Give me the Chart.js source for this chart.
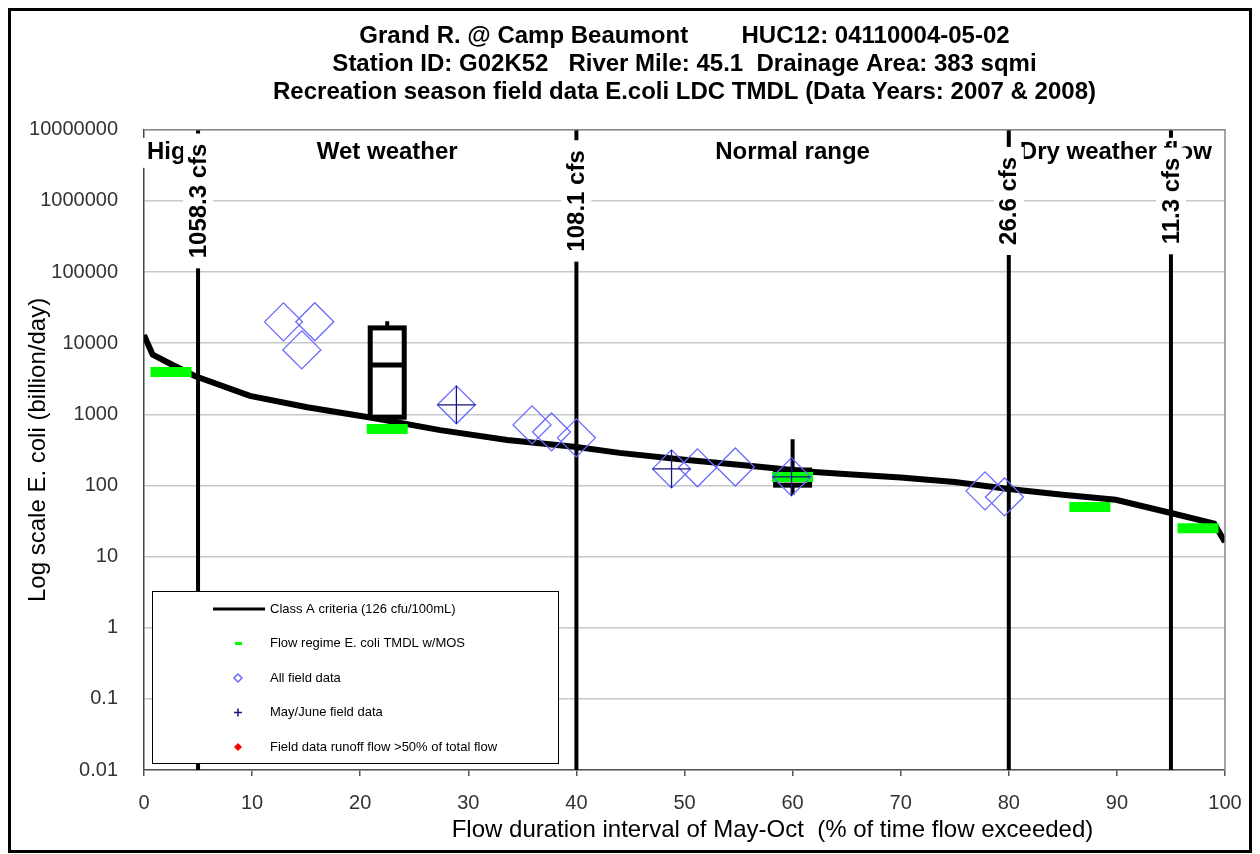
<!DOCTYPE html>
<html lang="en">
  <head>
    <meta charset="UTF-8" />
    <title>Grand R. @ Camp Beaumont - E.coli LDC TMDL</title>
    <script src="https://cdn.jsdelivr.net/npm/chart.js"></script>
    <style>
      body { margin: 0; background: #fff; }
    </style>
  </head>
  <body>
    <canvas id="ldc" width="1260" height="854"></canvas>

    <script>
      // Class A criteria load duration curve (billion/day)
      const criteriaX = [0, 0.8, 2.7, 4.7, 9.8, 15.1, 21.2, 27.4, 33.6, 40, 44, 50, 55, 60, 62, 64.8, 70, 75, 80, 85, 89.9, 95, 99, 100];
      const criteriaY = [13000, 6900, 4900, 3460, 1820, 1260, 890, 600, 436, 347, 287, 230, 195, 165, 155, 145, 129, 112, 89, 74, 63, 41, 29, 16];

      // flow regime TMDL w/MOS (one per regime)
      const tmdlX = [2.5, 22.5, 60, 87.5, 97.5];
      const tmdlY = [3950, 624, 132, 50, 25];

      // all field samples
      const fieldX = [12.9, 15.8, 14.6, 28.9, 35.9, 37.7, 40.0, 48.8, 51.2, 54.7, 59.9, 77.8, 79.6];
      const fieldY = [19950, 20000, 8050, 1360, 710, 566, 467, 171, 177, 182, 132, 84, 69];

      // May/June samples
      const mayJuneX = [28.9, 48.8, 59.9];
      const mayJuneY = [1360, 171, 132];

      // samples where runoff > 50% of flow (none)
      const runoffX = [];
      const runoffY = [];

      // box plots per regime
      const boxX = [22.5, 60];
      const boxMin = [880, 74];
      const boxQ1 = [910, 101];
      const boxMed = [4950, 133];
      const boxQ3 = [16400, 165];
      const boxMax = [20400, 447];

      // regime boundaries
      const breakX = [5, 40, 80, 95];
      const breakLabels = ["1058.3 cfs", "108.1 cfs", "26.6 cfs", "11.3 cfs"];
      const regimeNames = ["High flow", "Wet weather", "Normal range", "Dry weather flow"];
      const regimeCenters = [0, 22.5, 60, 89.9];

      const yTicks = [0.01, 0.1, 1, 10, 100, 1000, 10000, 100000, 1000000, 10000000];

      const FONT = "'Liberation Sans', Arial, sans-serif";
      const pts = (xs, ys) => xs.map((v, i) => ({ x: v, y: ys[i] }));

      const breakSets = breakX.map((b) => ({
        data: [{ x: b, y: 0.01 }, { x: b, y: 10000000 }],
        showLine: true,
        borderColor: "#000",
        borderWidth: 4,
        pointRadius: 0,
        order: 5,
        noLegend: true,
      }));

      const datasets = [
        {
          label: "Class A criteria (126 cfu/100mL)",
          kind: "line",
          id: "criteria",
          data: pts(criteriaX, criteriaY),
          showLine: true,
          borderColor: "#000",
          borderWidth: 6,
          pointRadius: 0,
          tension: 0,
          order: 4,
        },
        {
          label: "Flow regime E. coli TMDL w/MOS",
          kind: "dash",
          data: pts(tmdlX, tmdlY),
          pointStyle: "line",
          pointRadius: 20.5,
          borderColor: "#00ff00",
          borderWidth: 10,
          order: 3,
        },
        {
          label: "All field data",
          kind: "diamond",
          data: pts(fieldX, fieldY),
          pointStyle: "rectRot",
          pointRadius: 19,
          borderColor: "rgb(105,105,255)",
          backgroundColor: "rgba(0,0,0,0)",
          borderWidth: 1.3,
          order: 2,
        },
        {
          label: "May/June field data",
          kind: "cross",
          data: pts(mayJuneX, mayJuneY),
          pointStyle: "cross",
          pointRadius: 19,
          borderColor: "rgb(20,20,130)",
          borderWidth: 1.3,
          order: 1,
        },
        {
          label: "Field data runoff flow >50% of total flow",
          kind: "red",
          data: pts(runoffX, runoffY),
          pointStyle: "rectRot",
          pointRadius: 5,
          borderColor: "#ff0000",
          backgroundColor: "#ff0000",
          order: 0,
        },
        ...breakSets,
      ];

      function drawBoxes(chart) {
        const { ctx, scales } = chart;
        const half = 17;
        ctx.save();
        ctx.strokeStyle = "#000";
        boxX.forEach((bx, i) => {
          const px = scales.x.getPixelForValue(bx);
          const yMin = scales.y.getPixelForValue(boxMin[i]);
          const yQ1 = scales.y.getPixelForValue(boxQ1[i]);
          const yMed = scales.y.getPixelForValue(boxMed[i]);
          const yQ3 = scales.y.getPixelForValue(boxQ3[i]);
          const yMax = scales.y.getPixelForValue(boxMax[i]);
          ctx.lineWidth = 4;
          ctx.beginPath();
          ctx.moveTo(px, yMax);
          ctx.lineTo(px, yQ3);
          ctx.moveTo(px, yQ1);
          ctx.lineTo(px, yMin);
          ctx.stroke();
          ctx.lineWidth = 5;
          ctx.strokeRect(px - half, yQ3, half * 2, yQ1 - yQ3);
          ctx.beginPath();
          ctx.moveTo(px - half, yMed);
          ctx.lineTo(px + half, yMed);
          ctx.stroke();
        });
        ctx.restore();
      }

      function drawLabels(chart) {
        const { ctx, chartArea: ca, scales } = chart;
        ctx.save();
        ctx.font = "bold 24px " + FONT;
        ctx.textBaseline = "middle";
        const ly = ca.top + 23;
        const firstBox = scales.x.getPixelForValue(breakX[0]) - 13;
        regimeNames.forEach((name, i) => {
          const w = ctx.measureText(name).width;
          let cx = scales.x.getPixelForValue(regimeCenters[i]);
          ctx.save();
          if (i === 0) {
            cx = ca.left + 3 + w / 2;
            ctx.beginPath();
            ctx.rect(ca.left - 4, ca.top, firstBox - ca.left + 4, 50);
            ctx.clip();
          }
          ctx.fillStyle = "#fff";
          ctx.fillRect(cx - w / 2 - 4, ly - 15, w + 8, 30);
          ctx.fillStyle = "#000";
          ctx.textAlign = "center";
          ctx.fillText(name, cx, ly);
          ctx.restore();
        });
        // rotated flow labels on the regime boundaries
        const cy = scales.y.getPixelForValue(1000000);
        breakX.forEach((b, i) => {
          const px = scales.x.getPixelForValue(b);
          const w = ctx.measureText(breakLabels[i]).width;
          ctx.fillStyle = "#fff";
          ctx.fillRect(px - 15, cy - w / 2 - 10, 30, w + 20);
          ctx.save();
          ctx.translate(px + 1, cy);
          ctx.rotate(-Math.PI / 2);
          ctx.fillStyle = "#000";
          ctx.textAlign = "center";
          ctx.fillText(breakLabels[i], 0, 0);
          ctx.restore();
        });
        ctx.restore();
      }

      function drawLegend(chart) {
        const { ctx, chartArea: ca } = chart;
        const left = ca.left + 8;
        const top = ca.bottom - 179;
        ctx.save();
        ctx.fillStyle = "#fff";
        ctx.fillRect(left, top, 406, 172);
        ctx.strokeStyle = "#000";
        ctx.lineWidth = 1;
        ctx.strokeRect(left + 0.5, top + 0.5, 406, 172);
        ctx.font = "13px " + FONT;
        ctx.textBaseline = "middle";
        const items = chart.data.datasets.filter((d) => !d.noLegend);
        items.forEach((d, i) => {
          const y = top + 18 + i * 34.5;
          const mx = left + 86;
          if (d.kind === "line") {
            ctx.strokeStyle = "#000";
            ctx.lineWidth = 3;
            ctx.beginPath();
            ctx.moveTo(left + 61, y);
            ctx.lineTo(left + 113, y);
            ctx.stroke();
          } else if (d.kind === "dash") {
            ctx.fillStyle = "#00ff00";
            ctx.fillRect(mx - 3, y - 1.5, 7, 3);
          } else if (d.kind === "cross") {
            ctx.strokeStyle = d.borderColor;
            ctx.lineWidth = 1.5;
            ctx.beginPath();
            ctx.moveTo(mx - 4, y);
            ctx.lineTo(mx + 4, y);
            ctx.moveTo(mx, y - 4);
            ctx.lineTo(mx, y + 4);
            ctx.stroke();
          } else {
            ctx.beginPath();
            ctx.moveTo(mx, y - 4);
            ctx.lineTo(mx + 4, y);
            ctx.lineTo(mx, y + 4);
            ctx.lineTo(mx - 4, y);
            ctx.closePath();
            if (d.kind === "red") {
              ctx.fillStyle = "#ff0000";
              ctx.fill();
            } else {
              ctx.strokeStyle = d.borderColor;
              ctx.lineWidth = 1.5;
              ctx.stroke();
            }
          }
          ctx.fillStyle = "#000";
          ctx.fillText(d.label, left + 118, y);
        });
        ctx.restore();
      }

      const decorations = {
        id: "decorations",
        beforeDraw(chart) {
          const { ctx } = chart;
          ctx.save();
          ctx.fillStyle = "#fff";
          ctx.fillRect(0, 0, chart.width, chart.height);
          ctx.restore();
        },
        afterDatasetDraw(chart, args) {
          if (chart.data.datasets[args.index].id === "criteria") drawBoxes(chart);
        },
        afterDatasetsDraw(chart) {
          const { ctx, chartArea: ca } = chart;
          ctx.save();
          ctx.strokeStyle = "#888";
          ctx.lineWidth = 1.5;
          ctx.beginPath();
          ctx.moveTo(ca.left, ca.top);
          ctx.lineTo(ca.right, ca.top);
          ctx.lineTo(ca.right, ca.bottom);
          ctx.stroke();
          ctx.restore();
          drawLabels(chart);
          drawLegend(chart);
        },
        afterDraw(chart) {
          const { ctx, chartArea: ca } = chart;
          ctx.save();
          ctx.font = "24px " + FONT;
          ctx.fillStyle = "#000";
          ctx.textAlign = "center";
          ctx.textBaseline = "middle";
          ctx.fillText(
            "Flow duration interval of May-Oct  (% of time flow exceeded)",
            (ca.left + ca.right) / 2 + 88,
            830
          );
          ctx.strokeStyle = "#000";
          ctx.lineWidth = 3;
          ctx.strokeRect(9.5, 9.5, 1241, 842);
          ctx.restore();
        },
      };

      const ctx = document.getElementById("ldc").getContext("2d");
      const ldcChart = new Chart(ctx, {
        type: "scatter",
        data: { datasets: datasets },
        options: {
          responsive: false,
          animation: false,
          events: [],
          devicePixelRatio: 1,
          layout: { padding: { left: 12, right: 35, top: 0, bottom: 0 } },
          plugins: {
            legend: { display: false },
            tooltip: { enabled: false },
            title: {
              display: true,
              fullSize: false,
              text: [
                "Grand R. @ Camp Beaumont        HUC12: 04110004-05-02",
                "Station ID: G02K52   River Mile: 45.1  Drainage Area: 383 sqmi",
                "Recreation season field data E.coli LDC TMDL (Data Years: 2007 & 2008)",
              ],
              color: "#000",
              font: { family: FONT, size: 24, weight: "bold", lineHeight: 1.15 },
              padding: { top: 23, bottom: 24 },
            },
          },
          scales: {
            x: {
              type: "linear",
              min: 0,
              max: 100,
              ticks: { stepSize: 10, color: "#333", font: { family: FONT, size: 20 }, padding: 15 },
              grid: { drawOnChartArea: false, drawTicks: true, tickLength: 6, color: "#555", lineWidth: 1.5 },
              border: { display: true, color: "#555", width: 1.5 },
              afterFit: (s) => { s.height = 84; },
            },
            y: {
              type: "logarithmic",
              min: 0.01,
              max: 10000000,
              afterBuildTicks: (s) => { s.ticks = yTicks.map((v) => ({ value: v })); },
              ticks: {
                color: "#333",
                font: { family: FONT, size: 20 },
                padding: 26,
                callback: (v) => String(v),
              },
              grid: { color: "#c8c8c8", lineWidth: 1.5, drawTicks: false },
              border: { display: true, color: "#444", width: 1.5 },
              title: {
                display: true,
                text: "Log scale E. coli (billion/day)",
                color: "#000",
                font: { family: FONT, size: 24 },
                padding: { top: 12, bottom: 0 },
              },
              afterFit: (s) => { s.width = 132; },
            },
          },
        },
        plugins: [decorations],
      });
    </script>
  </body>
</html>
